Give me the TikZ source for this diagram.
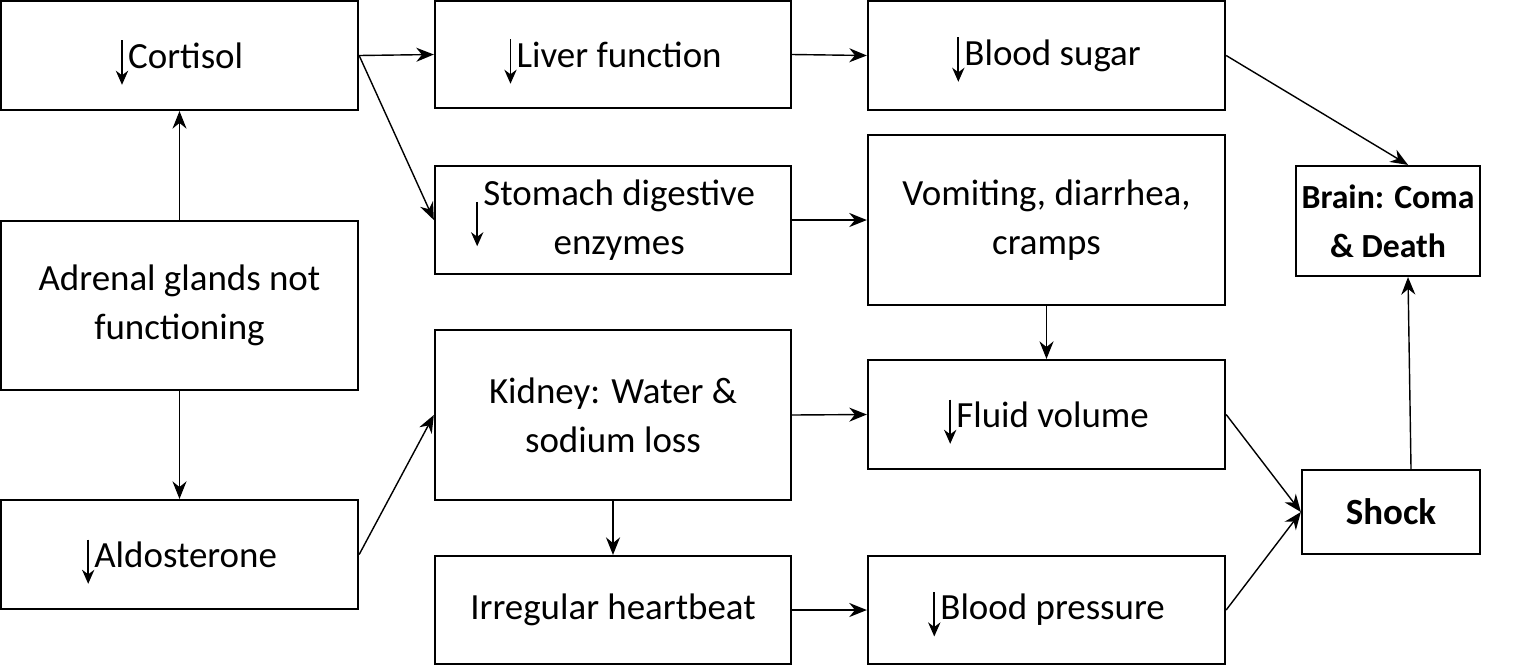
\documentclass[tikz,border=0pt]{standalone}
\usepackage{fontspec}
\setmainfont{Carlito}
\usetikzlibrary{arrows.meta}
\newcommand{\dn}{\smash{\tikz[baseline=0pt]\draw[line width=0.5pt,-{Stealth[length=4pt,width=3.5pt]}] (0,0.75em)--(0,-0.45em);}}
\begin{document}
\begin{tikzpicture}[x=0.01cm,y=-0.01cm,
  bx/.style={draw,line width=0.6pt,inner sep=0pt,align=center,font=\fontsize{10.5}{14}\selectfont},
  ar/.style={-{Stealth[length=5pt,width=4pt]},line width=0.4pt}]
\useasboundingbox (0,0) rectangle (1536,666);
\node[bx,minimum width=3.57cm,minimum height=1.09cm] (cort) at (179.5,55.5) {\dn Cortisol};
\node[bx,minimum width=3.56cm,minimum height=1.07cm] (liver) at (613,54.5) {\dn Liver function};
\node[bx,minimum width=3.57cm,minimum height=1.09cm] (sugar) at (1046.5,55.5) {\dn Blood sugar};
\node[bx,minimum width=3.56cm,minimum height=1.08cm] (stom) at (613,220) {\dn\begin{tabular}{@{}c@{}}Stomach digestive\\enzymes\end{tabular}};
\node[bx,minimum width=3.57cm,minimum height=1.70cm] (vom) at (1046.5,220) {Vomiting, diarrhea,\\cramps};
\node[bx,minimum width=1.84cm,minimum height=1.10cm,font=\fontsize{9.6}{14}\selectfont\bfseries] (brain) at (1388,221) {Brain: Coma\\\& Death};
\node[bx,minimum width=3.57cm,minimum height=1.69cm] (adr) at (179.5,305.5) {Adrenal glands not\\functioning};
\node[bx,minimum width=3.56cm,minimum height=1.70cm] (kid) at (613,415) {Kidney: Water \&\\sodium loss};
\node[bx,minimum width=3.57cm,minimum height=1.09cm] (fluid) at (1046.5,414.5) {\dn Fluid volume};
\node[bx,minimum width=1.78cm,minimum height=0.84cm,font=\fontsize{10.5}{14}\selectfont\bfseries] (shock) at (1391,512) {Shock};
\node[bx,minimum width=3.57cm,minimum height=1.09cm] (ald) at (179.5,554.5) {\dn Aldosterone};
\node[bx,minimum width=3.56cm,minimum height=1.08cm] (irr) at (613,610) {Irregular heartbeat};
\node[bx,minimum width=3.57cm,minimum height=1.08cm] (bp) at (1046.5,610) {\dn Blood pressure};
\draw[ar] (adr.north) -- (cort.south);
\draw[ar] (adr.south) -- (ald.north);
\draw[ar] (cort.east) -- (liver.west);
\draw[ar] (cort.east) -- (stom.west);
\draw[ar] (liver.east) -- (sugar.west);
\draw[ar] (stom.east) -- (vom.west);
\draw[ar] (vom.south) -- (fluid.north);
\draw[ar] (ald.east) -- (kid.west);
\draw[ar] (kid.east) -- (fluid.west);
\draw[ar] (kid.south) -- (irr.north);
\draw[ar] (irr.east) -- (bp.west);
\draw[ar] (sugar.east) -- ([xshift=0.2cm]brain.north);
\draw[ar] (fluid.east) -- (shock.west);
\draw[ar] (bp.east) -- (shock.west);
\draw[ar] ([xshift=0.2cm]shock.north) -- ([xshift=0.2cm]brain.south);
\end{tikzpicture}
\end{document}
